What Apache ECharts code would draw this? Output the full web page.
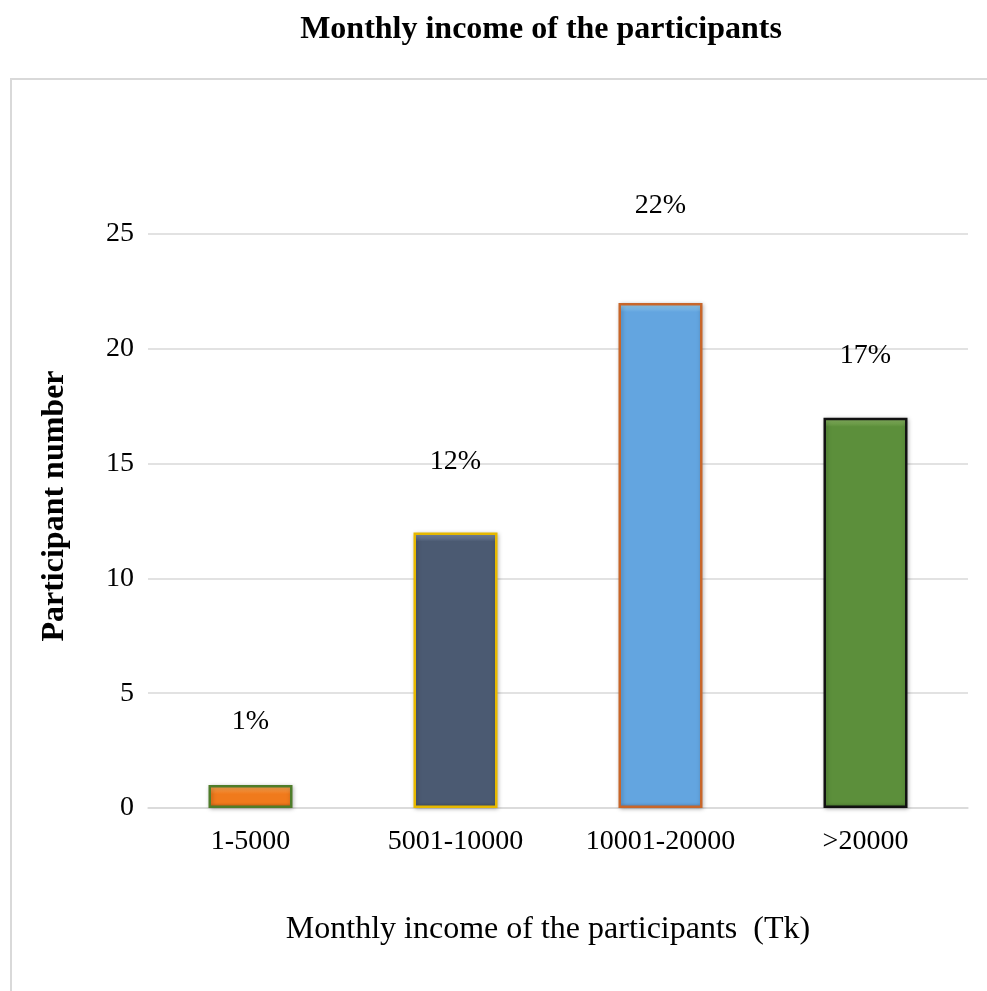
<!DOCTYPE html>
<html>
<head>
<meta charset="utf-8">
<script src="https://cdn.jsdelivr.net/npm/echarts@6/dist/echarts.min.js"></script>
<style>
  html, body { margin: 0; padding: 0; background: #fff; }
  #chart { width: 987px; height: 991px; }
</style>
</head>
<body>
<div id="chart"></div>
<script>
// Income groups (Tk) and number of participants in each
const categories = ['1-5000', '5001-10000', '10001-20000', '>20000'];
const participants = [1, 12, 22, 17];
const percentLabels = ['1%', '12%', '22%', '17%'];
const yTicks = [0, 5, 10, 15, 20, 25];

// Per-bar fill, bevel highlight/shade and outline colours
const fills = ['#f07a1c', '#4b5a72', '#63a5e0', '#5c8f3b'];
const highlights = ['#ffb060', '#8a9ab4', '#a8e0fb', '#97c46e'];
const shades = ['#c85a10', '#3a475c', '#4f8cc6', '#4a7a2e'];
const outlines = ['#4f7d2a', '#e6b800', '#c8662a', '#111111'];
const labelGaps = [49, 57, 83, 48];

const serif = '"Liberation Serif", "Times New Roman", serif';
const pxPerUnit = 574 / 25; // plot height over axis range, used for bevel band sizes

const chart = echarts.init(document.getElementById('chart'));

const barData = participants.map((v, i) => {
  const h = v * pxPerUnit;
  const top = Math.min(0.4, 9 / h);
  const bottom = Math.max(0.6, 1 - 5 / h);
  return {
    value: v,
    itemStyle: {
      color: new echarts.graphic.LinearGradient(0, 0, 0, 1, [
        { offset: 0, color: highlights[i] },
        { offset: top, color: fills[i] },
        { offset: bottom, color: fills[i] },
        { offset: 1, color: shades[i] }
      ]),
      borderColor: outlines[i],
      borderWidth: 2.5,
      shadowColor: 'rgba(0,0,0,0.25)',
      shadowBlur: 4,
      shadowOffsetX: 1,
      shadowOffsetY: 1
    },
    label: {
      distance: labelGaps[i],
      formatter: percentLabels[i]
    }
  };
});

chart.setOption({
  animation: false,
  title: {
    text: 'Monthly income of the participants',
    left: 536,
    textAlign: 'center',
    top: 9,
    textStyle: { fontFamily: serif, fontWeight: 'bold', fontSize: 32, color: '#000' }
  },
  graphic: [{
    type: 'rect',
    shape: { x: 11, y: 79, width: 990, height: 930 },
    style: { fill: 'none', stroke: '#d9d9d9', lineWidth: 2 },
    silent: true,
    z: -1
  }],
  grid: { left: 148, right: 19, top: 234, bottom: 183, containLabel: false },
  xAxis: {
    type: 'category',
    data: categories,
    name: 'Monthly income of the participants  (Tk)',
    nameLocation: 'middle',
    nameGap: 106,
    nameTextStyle: { fontFamily: serif, fontSize: 32, color: '#000', padding: [0, 20, 0, 0] },
    axisLine: { show: true, lineStyle: { color: '#d9d9d9', width: 1.5 } },
    axisTick: { show: false },
    axisLabel: { fontFamily: serif, fontSize: 28, color: '#000', margin: 20 }
  },
  yAxis: {
    type: 'value',
    min: yTicks[0],
    max: yTicks[yTicks.length - 1],
    interval: yTicks[1] - yTicks[0],
    name: 'Participant number',
    nameLocation: 'middle',
    nameGap: 77,
    nameRotate: 90,
    nameTextStyle: { fontFamily: serif, fontSize: 32, fontWeight: 'bold', color: '#000', padding: [0, 0, 0, 30] },
    axisLine: { show: false },
    axisTick: { show: false },
    splitLine: { lineStyle: { color: '#d9d9d9', width: 1.5 } },
    axisLabel: { fontFamily: serif, fontSize: 28, color: '#000', margin: 14 }
  },
  series: [{
    type: 'bar',
    data: barData,
    barWidth: 84,
    label: {
      show: true,
      position: 'top',
      fontFamily: serif,
      fontSize: 28,
      color: '#000'
    }
  }]
});
</script>
</body>
</html>
